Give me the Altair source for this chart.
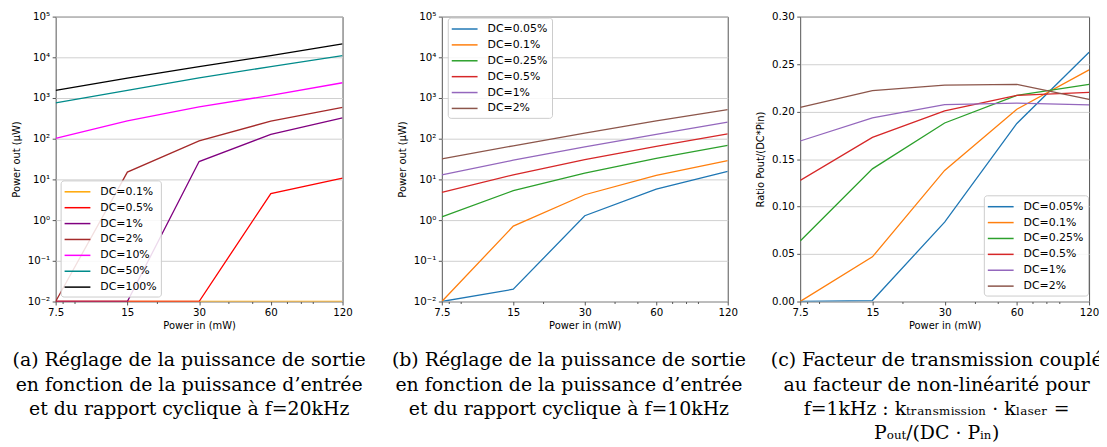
import altair as alt
import pandas as pd

# ---------------- data ----------------
x_vals = [7.5, 15, 30, 60, 120]
x_minor = [8, 9, 20, 40, 50, 70, 80, 90]

# panel (a) f=20kHz, Power out (uW)
a_series = ["DC=0.1%", "DC=0.5%", "DC=1%", "DC=2%", "DC=10%", "DC=50%", "DC=100%"]
a_colors = ["#ffa500", "#ff0000", "#800080", "#a52a2a", "#ff00ff", "#008b8b", "#000000"]
a_dc01 = [0.01, 0.01, 0.01, 0.01, 0.01]
a_dc05 = [0.01, 0.01, 0.01, 4.5, 10.8]
a_dc1 = [0.01, 0.01, 27.5, 128, 325]
a_dc2 = [0.01, 15.1, 88, 270, 592]
a_dc10 = [102, 275, 603, 1160, 2370]
a_dc50 = [755, 1540, 3130, 5900, 11000]
a_dc100 = [1540, 3080, 5920, 11000, 21500]

# panel (b) f=10kHz, Power out (uW)
b_series = ["DC=0.05%", "DC=0.1%", "DC=0.25%", "DC=0.5%", "DC=1%", "DC=2%"]
tab_colors = ["#1f77b4", "#ff7f0e", "#2ca02c", "#d62728", "#9467bd", "#8c564b"]
b_dc005 = [0.01, 0.02, 1.28, 5.8, 15.7]
b_dc01 = [0.01, 0.71, 4.2, 12.5, 29]
b_dc025 = [1.2, 5.3, 14.3, 33, 68.7]
b_dc05 = [4.8, 13, 30.7, 65, 132]
b_dc1 = [13, 29.6, 62.7, 128, 255]
b_dc2 = [31.9, 67, 137, 275, 519]

# panel (c) f=1kHz, ratio Pout/(DC*Pin)
c_series = ["DC=0.05%", "DC=0.1%", "DC=0.25%", "DC=0.5%", "DC=1%", "DC=2%"]
c_dc005 = [0.0, 0.001, 0.0836, 0.1875, 0.2624]
c_dc01 = [0.0, 0.047, 0.138, 0.2024, 0.2439]
c_dc025 = [0.0638, 0.1397, 0.188, 0.2171, 0.2286]
c_dc05 = [0.1275, 0.1728, 0.2007, 0.2171, 0.2202]
c_dc1 = [0.169, 0.1934, 0.2073, 0.209, 0.207]
c_dc2 = [0.2045, 0.222, 0.2279, 0.2286, 0.2129]

log_ticks = [1e-2, 1e-1, 1e0, 1e1, 1e2, 1e3, 1e4, 1e5]
ratio_ticks = [0.0, 0.05, 0.10, 0.15, 0.20, 0.25, 0.30]

cap_a = ["(a) Réglage de la puissance de sortie",
         "en fonction de la puissance d’entrée",
         "et du rapport cyclique à f=20kHz"]
cap_b = ["(b) Réglage de la puissance de sortie",
         "en fonction de la puissance d’entrée",
         "et du rapport cyclique à f=10kHz"]
cap_c = ["(c) Facteur de transmission couplé",
         "au facteur de non-linéarité pour",
         "f=1kHz : kₜᵣₐₙₛₘᵢₛₛᵢₒₙ · kₗₐₛₑᵣ =",
         "Pₒᵤₜ/(DC · Pᵢₙ)"]


def long_df(series, values):
    rows = []
    for s, vals in zip(series, values):
        for x, y in zip(x_vals, vals):
            rows.append({"x": x, "y": y, "s": s})
    return pd.DataFrame(rows)


df_a = long_df(a_series, [a_dc01, a_dc05, a_dc1, a_dc2, a_dc10, a_dc50, a_dc100])
df_b = long_df(b_series, [b_dc005, b_dc01, b_dc025, b_dc05, b_dc1, b_dc2])
df_c = long_df(c_series, [c_dc005, c_dc01, c_dc025, c_dc05, c_dc1, c_dc2])
df_minor = pd.DataFrame({"x": x_minor})

SUP = "['⁻²','⁻¹','⁰','¹','²','³','⁴','⁵'][round(log(datum.value)/LN10)+2]"
FONT = "DejaVu Sans"
H = 287


def panel(df, series, colors, ylog, ytitle, lx, ly, caption, dx, width):
    xscale = alt.Scale(type="log", domain=[7.5, 120], nice=False)
    if ylog:
        yscale = alt.Scale(type="log", domain=[0.01, 1e5], nice=False)
        yaxis = alt.Axis(values=log_ticks, labelExpr="'10' + " + SUP, title=ytitle,
                         grid=True, titlePadding=6)
    else:
        yscale = alt.Scale(domain=[0, 0.3], nice=False)
        yaxis = alt.Axis(values=ratio_ticks, format=".2f", title=ytitle,
                         grid=True, titlePadding=6)
    lines = alt.Chart(df).mark_line(strokeWidth=1.3, clip=True).encode(
        x=alt.X("x:Q", scale=xscale,
                axis=alt.Axis(values=x_vals, format="~g", title="Power in (mW)",
                              orient="bottom", grid=False, titlePadding=3)),
        y=alt.Y("y:Q", scale=yscale, axis=yaxis),
        color=alt.Color("s:N", scale=alt.Scale(domain=series, range=colors),
                        legend=alt.Legend(title=None, orient="none", legendX=lx, legendY=ly,
                                          symbolType="M-2,0H2", symbolSize=169,
                                          symbolStrokeWidth=1.5, symbolOffset=5.5,
                                          labelOffset=15.5, labelFontSize=11,
                                          labelFont=FONT, labelColor="#000",
                                          padding=4, rowPadding=3,
                                          fillColor="rgba(255,255,255,0.85)",
                                          strokeColor="#cccccc", cornerRadius=3)),
    )
    minor = alt.Chart(df_minor).mark_point(opacity=0).encode(
        x=alt.X("x:Q", scale=xscale,
                axis=alt.Axis(values=x_minor, labels=False, tickSize=2, domain=False,
                              grid=False, title=None, orient="bottom")),
    )
    return alt.layer(lines, minor).resolve_axis(x="independent").properties(
        width=width, height=H,
        title=alt.TitleParams(text=caption, orient="bottom", anchor="middle", frame="group",
                              font="DejaVu Serif", fontSize=19, fontWeight="normal",
                              lineHeight=24.5, offset=21, dx=dx, color="#000",
                              baseline="top"),
    )


pa = panel(df_a, a_series, a_colors, True, "Power out (µW)", 5, 165, cap_a, -10, 289)
pb = panel(df_b, b_series, tab_colors, True, "Power out (µW)", 6, 1, cap_b, -16, 288)
pc = panel(df_c, c_series, tab_colors, False, "Ratio Pout/(DC*Pin)", 185, 180, cap_c, -8, 291)

inner = alt.hconcat(pb, pc, spacing=73, bounds="flush").resolve_scale(
    x="independent", y="independent", color="independent")

chart = alt.hconcat(pa, inner, spacing=100, bounds="flush").resolve_scale(
    x="independent", y="independent", color="independent"
).properties(
    autosize=alt.AutoSizeParams(type="none"),
    padding={"left": 48, "top": 6, "right": 1051, "bottom": 433},
).configure_view(
    stroke="#555555", strokeWidth=1
).configure_axis(
    labelFont=FONT, titleFont=FONT, labelFontSize=10.3, titleFontSize=10,
    labelColor="#000", titleColor="#000", tickColor="#555555", tickSize=3.5,
    domain=False, titleFontWeight="normal", gridColor="#d0d0d0", labelPadding=2.5,
    labelFlush=False, labelOverlap=False,
)

chart.save("out.html", embed_options={"renderer": "svg", "actions": False})
